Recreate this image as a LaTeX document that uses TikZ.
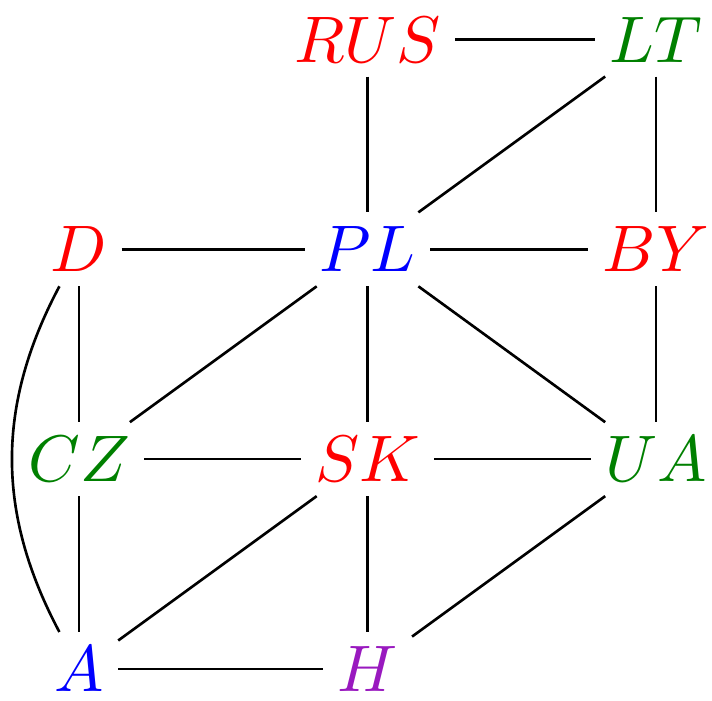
\documentclass[tikz,border=0pt]{standalone}
\usepackage{amsmath, amssymb}
\usepackage{tikz}
\usetikzlibrary{positioning}

\definecolor{darkgreen}{rgb}{0,0.5,0}
\definecolor{hviolet}{rgb}{0.6,0.1,0.75}

\begin{document}
\begin{tikzpicture}[node distance=1.12cm and 1.54cm, on grid, auto, inner sep=2pt]
          \useasboundingbox (-0.422,-0.168) rectangle (3.379,3.571);
          \node (A) {$\color{blue}A$};
          \node (H) [right=of A] {$\color{hviolet}H$};
          \node (CZ) [above=of A] {$\color{darkgreen}CZ$};
          \node (SK) [right=of CZ] {$\color{red}SK$};
          \node (UA) [right=of SK] {$\color{darkgreen}UA$};
          \node (D) [above=of CZ] {$\color{red}D$};
          \node (PL) [right=of D] {$\color{blue}PL$};
          \node (BY) [right=of PL] {$\color{red}BY$};
          \node (RUS) [above=of PL] {$\color{red}RUS$};
          \node (LT) [right=of RUS] {$\color{darkgreen}LT$};
          \draw[-] (RUS) -- (LT);
          \draw[-] (RUS) -- (PL);
          \draw[-] (LT) -- (PL);
          \draw[-] (LT) -- (BY);
          \draw[-] (D) -- (PL);
          \draw[-] (PL) -- (BY);
          \draw[-] (D) -- (CZ);
          \draw[-] (D) to[bend right=28] (A);
          \draw[-] (PL) -- (CZ);
          \draw[-] (PL) -- (SK);
          \draw[-] (PL) -- (UA);
          \draw[-] (BY) -- (UA);
          \draw[-] (CZ) -- (SK);
          \draw[-] (SK) -- (UA);
          \draw[-] (CZ) -- (A);
          \draw[-] (SK) -- (A);
          \draw[-] (SK) -- (H);
          \draw[-] (UA) -- (H);
          \draw[-] (A) -- (H);
      \end{tikzpicture}
\end{document}
